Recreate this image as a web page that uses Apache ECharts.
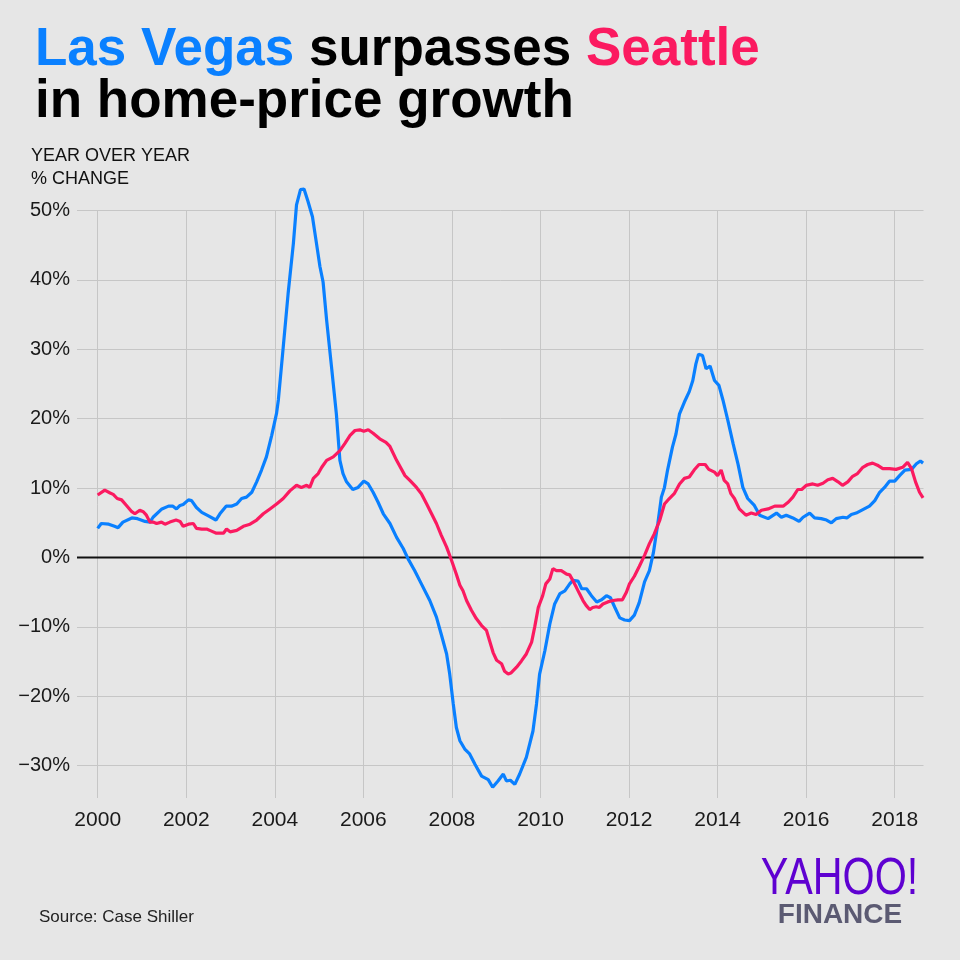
<!DOCTYPE html>
<html><head><meta charset="utf-8">
<script src="https://cdn.jsdelivr.net/npm/echarts@6/dist/echarts.min.js"></script>
<style>html,body{margin:0;padding:0;background:#e6e6e6}#c{width:960px;height:960px}</style>
</head><body><div id="c"></div>
<script>
// Year-over-year % change, Case-Shiller
const lasVegas = [
[2000.00,4.2],[2000.08,4.9],[2000.25,4.8],[2000.38,4.5],[2000.46,4.3],[2000.57,5.1],[2000.77,5.7],[2000.90,5.6],
[2001.07,5.2],[2001.18,5.1],[2001.25,5.8],[2001.45,7.0],[2001.60,7.4],[2001.70,7.4],[2001.78,7.0],[2001.86,7.5],[2001.93,7.65],
[2002.05,8.3],[2002.12,8.2],[2002.23,7.2],[2002.35,6.5],[2002.50,6.0],[2002.67,5.4],[2002.76,6.3],[2002.90,7.4],
[2003.02,7.4],[2003.14,7.7],[2003.25,8.5],[2003.36,8.7],[2003.48,9.4],[2003.59,10.9],[2003.70,12.6],[2003.81,14.5],[2003.93,17.6],
[2004.04,20.8],[2004.08,22.7],[2004.19,30.3],[2004.30,38.0],[2004.42,45.3],[2004.49,50.8],[2004.58,53.0],[2004.66,53.1],[2004.75,51.3],[2004.85,49.1],[2004.94,45.3],
[2005.02,41.9],[2005.09,39.7],[2005.17,34.2],[2005.28,27.5],[2005.39,20.7],[2005.47,14.0],[2005.54,12.1],[2005.62,10.9],[2005.76,9.8],[2005.88,10.1],
[2006.01,11.0],[2006.11,10.6],[2006.22,9.4],[2006.33,8.0],[2006.45,6.3],[2006.60,4.9],[2006.75,2.9],[2006.90,1.3],
[2007.01,-0.2],[2007.16,-1.9],[2007.31,-3.8],[2007.50,-6.2],[2007.65,-8.6],[2007.76,-11.1],[2007.88,-13.9],[2007.95,-16.8],
[2008.03,-21.1],[2008.10,-24.5],[2008.18,-26.4],[2008.29,-27.6],[2008.40,-28.3],[2008.52,-29.8],[2008.67,-31.5],[2008.82,-32.0],[2008.92,-33.1],
[2009.04,-32.2],[2009.16,-31.2],[2009.23,-32.2],[2009.32,-32.1],[2009.42,-32.7],[2009.53,-31.2],[2009.68,-28.8],[2009.83,-25.0],[2009.91,-21.1],[2009.98,-16.8],
[2010.10,-13.4],[2010.21,-9.6],[2010.32,-6.7],[2010.44,-5.2],[2010.55,-4.8],[2010.66,-3.8],[2010.73,-3.3],[2010.85,-3.4],[2010.93,-4.5],
[2011.04,-4.5],[2011.15,-5.5],[2011.27,-6.4],[2011.38,-6.1],[2011.49,-5.5],[2011.58,-5.8],[2011.68,-7.2],[2011.79,-8.7],[2011.90,-9.0],
[2012.01,-9.1],[2012.12,-8.3],[2012.23,-6.5],[2012.35,-3.5],[2012.46,-1.9],[2012.55,0.7],[2012.65,4.9],[2012.73,8.7],[2012.80,10.1],[2012.87,12.6],[2012.98,15.9],
[2013.06,17.8],[2013.14,20.7],[2013.25,22.4],[2013.36,23.9],[2013.44,25.5],[2013.51,27.9],[2013.57,29.3],[2013.66,29.1],[2013.74,27.2],[2013.83,27.6],[2013.93,25.5],
[2014.03,24.8],[2014.12,22.7],[2014.23,19.8],[2014.35,16.4],[2014.46,13.5],[2014.57,10.1],[2014.68,8.5],[2014.83,7.5],[2014.95,6.1],
[2015.14,5.6],[2015.33,6.4],[2015.44,5.8],[2015.55,6.1],[2015.70,5.7],[2015.84,5.2],[2015.93,5.8],
[2016.08,6.4],[2016.19,5.7],[2016.34,5.6],[2016.46,5.4],[2016.57,5.0],[2016.68,5.6],[2016.83,5.8],[2016.92,5.7],
[2017.02,6.2],[2017.13,6.4],[2017.28,6.9],[2017.43,7.4],[2017.55,8.2],[2017.66,9.4],[2017.77,10.1],[2017.88,11.0],
[2018.00,11.0],[2018.11,11.8],[2018.23,12.6],[2018.38,12.7],[2018.49,13.5],[2018.58,13.9],[2018.64,13.6]
];
const seattle = [
[2000.00,9.0],[2000.16,9.7],[2000.28,9.3],[2000.35,9.1],[2000.44,8.5],[2000.54,8.3],[2000.65,7.5],[2000.77,6.6],[2000.84,6.3],[2000.95,6.8],
[2001.03,6.6],[2001.10,6.1],[2001.18,5.1],[2001.25,5.1],[2001.33,4.9],[2001.44,5.1],[2001.52,4.8],[2001.63,5.1],[2001.77,5.4],[2001.86,5.2],[2001.93,4.5],
[2002.05,4.8],[2002.16,4.9],[2002.23,4.2],[2002.35,4.1],[2002.46,4.1],[2002.57,3.8],[2002.68,3.5],[2002.84,3.5],[2002.91,4.1],[2002.99,3.7],
[2003.14,3.9],[2003.29,4.5],[2003.44,4.8],[2003.59,5.4],[2003.74,6.3],[2003.89,7.0],
[2004.04,7.7],[2004.19,8.5],[2004.34,9.6],[2004.49,10.4],[2004.60,10.1],[2004.72,10.4],[2004.79,10.1],[2004.87,11.4],[2004.98,12.1],
[2005.06,13.0],[2005.17,14.0],[2005.32,14.5],[2005.47,15.4],[2005.58,16.4],[2005.70,17.6],[2005.81,18.3],[2005.92,18.4],
[2006.01,18.2],[2006.11,18.4],[2006.22,17.9],[2006.37,17.1],[2006.51,16.6],[2006.60,16.0],[2006.75,14.0],[2006.94,11.8],
[2007.05,11.1],[2007.20,10.1],[2007.31,9.2],[2007.43,7.7],[2007.54,6.3],[2007.65,4.9],[2007.76,3.2],[2007.88,1.5],[2007.99,-0.4],
[2008.10,-2.4],[2008.18,-4.0],[2008.25,-4.8],[2008.33,-6.2],[2008.44,-7.6],[2008.55,-8.8],[2008.67,-9.8],[2008.78,-10.5],[2008.85,-12.0],[2008.93,-13.7],
[2009.01,-14.8],[2009.12,-15.3],[2009.19,-16.4],[2009.27,-16.8],[2009.34,-16.6],[2009.46,-15.8],[2009.57,-14.9],[2009.68,-13.9],[2009.80,-12.2],[2009.87,-10.0],[2009.95,-7.2],
[2010.05,-5.5],[2010.12,-3.8],[2010.21,-3.1],[2010.28,-1.6],[2010.36,-1.9],[2010.47,-1.9],[2010.59,-2.4],[2010.66,-2.5],[2010.73,-3.3],[2010.81,-4.3],[2010.88,-5.2],[2010.96,-6.2],
[2011.03,-6.9],[2011.11,-7.5],[2011.18,-7.2],[2011.26,-7.1],[2011.33,-7.2],[2011.41,-6.7],[2011.52,-6.4],[2011.64,-6.2],[2011.75,-6.1],[2011.85,-6.1],[2011.94,-5.0],
[2012.01,-3.8],[2012.12,-2.7],[2012.23,-1.3],[2012.35,0.3],[2012.46,2.0],[2012.57,3.4],[2012.69,5.3],[2012.80,7.7],[2012.91,8.5],
[2013.02,9.2],[2013.14,10.6],[2013.25,11.4],[2013.36,11.6],[2013.47,12.6],[2013.58,13.4],[2013.72,13.4],[2013.80,12.7],[2013.93,12.3],
[2014.00,11.8],[2014.08,12.6],[2014.15,11.1],[2014.23,10.6],[2014.30,9.2],[2014.38,8.5],[2014.49,7.0],[2014.64,6.1],[2014.76,6.4],[2014.87,6.2],[2014.99,6.8],
[2015.14,7.0],[2015.29,7.4],[2015.48,7.4],[2015.60,8.0],[2015.70,8.7],[2015.81,9.8],[2015.90,9.8],
[2016.00,10.4],[2016.15,10.6],[2016.26,10.4],[2016.38,10.7],[2016.49,11.2],[2016.60,11.4],[2016.72,10.9],[2016.82,10.4],[2016.94,10.9],
[2017.05,11.7],[2017.16,12.1],[2017.28,13.0],[2017.39,13.4],[2017.50,13.6],[2017.61,13.3],[2017.73,12.8],[2017.88,12.8],
[2018.03,12.7],[2018.18,13.0],[2018.29,13.7],[2018.38,12.8],[2018.47,10.9],[2018.56,9.4],[2018.64,8.6]
];
const yearRange = [2000, 2018.65];
const yearStep = 2;
const pctRange = [-30, 50];
const pctStep = 10;
const zeroLine = [[0, 0], [1, 0]];

const FONT = 'Liberation Sans, Arial, Helvetica, sans-serif';
const BLUE = '#0a80ff';
const RED = '#fb1a60';
const GRID_TOP = 210.5, GRID_BOTTOM_PX = 765.7, EXT_BOTTOM_PX = 798;
const pxPerPct = (GRID_BOTTOM_PX - GRID_TOP) / (pctRange[1] - pctRange[0]);
const extMin = pctRange[0] - (EXT_BOTTOM_PX - GRID_BOTTOM_PX) / pxPerPct;

const chart = echarts.init(document.getElementById('c'), null, {renderer: 'canvas'});
chart.setOption({
  backgroundColor: '#e6e6e6',
  animation: false,
  grid: [
    {left: 77, right: 36.5, top: GRID_TOP, bottom: 960 - GRID_BOTTOM_PX},
    {left: 97.7, right: 36.5, top: GRID_TOP, bottom: 960 - EXT_BOTTOM_PX}
  ],
  xAxis: [
    {gridIndex: 0, type: 'value', min: 0, max: 1, show: false},
    {gridIndex: 1, type: 'value', min: yearRange[0], max: yearRange[1], interval: yearStep,
     axisLine: {show: false}, axisTick: {show: false},
     splitLine: {show: true, showMaxLine: false, lineStyle: {color: '#c6c6c6', width: 1}},
     axisLabel: {showMaxLabel: false, margin: 12, fontSize: 21, color: '#1a1a1a', fontFamily: FONT,
       formatter: v => String(Math.round(v))}}
  ],
  yAxis: [
    {gridIndex: 0, type: 'value', min: pctRange[0], max: pctRange[1], interval: pctStep,
     axisLine: {show: false}, axisTick: {show: false},
     splitLine: {show: true, lineStyle: {color: '#c6c6c6', width: 1}},
     axisLabel: {margin: 7, fontSize: 20, color: '#1a1a1a', fontFamily: FONT,
       formatter: v => (v < 0 ? '\u2212' + Math.abs(v) : v) + '%'}},
    {gridIndex: 1, type: 'value', min: extMin, max: pctRange[1], show: false}
  ],
  series: [
    {type: 'line', xAxisIndex: 0, yAxisIndex: 0, data: zeroLine, symbol: 'none', silent: true,
     lineStyle: {color: '#111', width: 2}, z: 3},
    {name: 'Las Vegas', type: 'line', xAxisIndex: 1, yAxisIndex: 1, data: lasVegas, symbol: 'none', clip: false,
     lineStyle: {color: BLUE, width: 3.2}, z: 4},
    {name: 'Seattle', type: 'line', xAxisIndex: 1, yAxisIndex: 1, data: seattle, symbol: 'none', clip: false,
     lineStyle: {color: RED, width: 3.2}, z: 5}
  ],
  graphic: [
    {type: 'text', x: 35, y: 50.5, style: {
      text: '{b|Las Vegas} surpasses {r|Seattle}',
      font: 'bold 53px ' + FONT, fill: '#000', verticalAlign: 'middle',
      rich: {
        b: {fill: BLUE, fontSize: 53, fontWeight: 'bold', fontFamily: FONT},
        r: {fill: RED, fontSize: 53, fontWeight: 'bold', fontFamily: FONT}
      }}},
    {type: 'text', x: 35, y: 102, style: {text: 'in home-price growth', font: 'bold 53px ' + FONT, fill: '#000', verticalAlign: 'middle'}},
    {type: 'text', x: 31, y: 156, style: {text: 'YEAR OVER YEAR', font: '18px ' + FONT, fill: '#111', verticalAlign: 'middle'}},
    {type: 'text', x: 31, y: 179, style: {text: '% CHANGE', font: '18px ' + FONT, fill: '#111', verticalAlign: 'middle'}},
    {type: 'text', x: 39, y: 917, style: {text: 'Source: Case Shiller', font: '17px ' + FONT, fill: '#222', verticalAlign: 'middle'}},
    {type: 'text', x: 839.5, y: 880, scaleX: 0.81, style: {text: 'YAHOO!', font: '51px ' + FONT, fill: '#5f01d1', align: 'center', verticalAlign: 'middle'}},
    {type: 'text', x: 840, y: 915, style: {text: 'FINANCE', font: 'bold 28px ' + FONT, fill: '#5b5a72', align: 'center', verticalAlign: 'middle'}}
  ]
});
</script></body></html>
